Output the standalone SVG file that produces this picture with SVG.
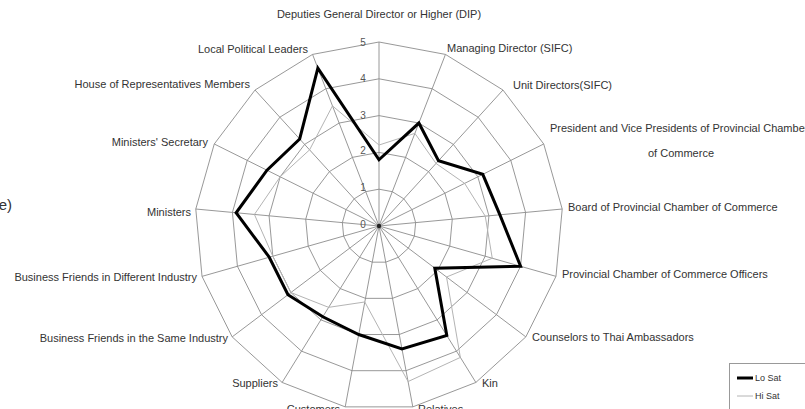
<svg xmlns="http://www.w3.org/2000/svg" width="805" height="409" viewBox="0 0 805 409">
  <style>
    .lbl { font-family: "Liberation Sans", Arial, sans-serif; font-size: 11px; fill: #333; }
    .num { font-family: "Liberation Sans", Arial, sans-serif; font-size: 10px; fill: #555; text-anchor: middle; }
    .grid { fill: none; stroke: #8c8c8c; stroke-width: 0.9; }
    .lo { fill: none; stroke: #000; stroke-width: 3; stroke-linejoin: miter; }
    .hi { fill: none; stroke: #b4b4b4; stroke-width: 1; }
  </style>

  <rect width="805" height="409" fill="#fff"/>

  <!-- cut-off caption at the left edge -->
  <text x="12" y="210" text-anchor="end" style="font-family:'Liberation Sans',Arial,sans-serif;font-size:15px;fill:#333">e)</text>

  <!-- radar grid: 17 spokes and 5 rings, centred at (379,226), 36.8px per unit -->
  <g id="grid" transform="translate(379,226)">
    <path class="grid" d="M0,0L0,-184M0,0L66.46,-171.58M0,0L123.96,-135.98M0,0L164.72,-82.01M0,0L183.21,-16.98M0,0L176.97,50.36M0,0L146.83,110.88M0,0L96.86,156.44M0,0L33.8,180.87M0,0L-33.8,180.87M0,0L-96.86,156.44M0,0L-146.83,110.88M0,0L-176.97,50.36M0,0L-183.21,-16.98M0,0L-164.72,-82.01M0,0L-123.96,-135.98M0,0L-66.46,-171.58"/>
    <polygon class="grid" points="0,-36.8 13.29,-34.32 24.79,-27.2 32.94,-16.4 36.64,-3.4 35.39,10.07 29.37,22.18 19.37,31.29 6.76,36.17 -6.76,36.17 -19.37,31.29 -29.37,22.18 -35.39,10.07 -36.64,-3.4 -32.94,-16.4 -24.79,-27.2 -13.29,-34.32"/>
    <polygon class="grid" points="0,-73.6 26.58,-68.63 49.58,-54.39 65.89,-32.8 73.28,-6.79 70.79,20.14 58.73,44.35 38.74,62.58 13.52,72.35 -13.52,72.35 -38.74,62.58 -58.73,44.35 -70.79,20.14 -73.28,-6.79 -65.89,-32.8 -49.58,-54.39 -26.58,-68.63"/>
    <polygon class="grid" points="0,-110.4 39.88,-102.95 74.38,-81.59 98.83,-49.21 109.93,-10.19 106.18,30.22 88.1,66.53 58.12,93.86 20.28,108.52 -20.28,108.52 -58.12,93.86 -88.1,66.53 -106.18,30.22 -109.93,-10.19 -98.83,-49.21 -74.38,-81.59 -39.88,-102.95"/>
    <polygon class="grid" points="0,-147.2 53.17,-137.26 99.17,-108.78 131.78,-65.61 146.57,-13.58 141.58,40.29 117.46,88.7 77.49,125.15 27.04,144.7 -27.04,144.7 -77.49,125.15 -117.46,88.7 -141.58,40.29 -146.57,-13.58 -131.78,-65.61 -99.17,-108.78 -53.17,-137.26"/>
    <polygon class="grid" points="0,-184 66.46,-171.58 123.96,-135.98 164.72,-82.01 183.21,-16.98 176.97,50.36 146.83,110.88 96.86,156.44 33.8,180.87 -33.8,180.87 -96.86,156.44 -146.83,110.88 -176.97,50.36 -183.21,-16.98 -164.72,-82.01 -123.96,-135.98 -66.46,-171.58"/>
    <circle r="2.2" fill="#222"/>
  </g>

  <!-- scale values on the vertical axis -->
  <g id="scale">
    <text class="num" x="363" y="227.5">0</text>
    <text class="num" x="363" y="190.5">1</text>
    <text class="num" x="363" y="153.5">2</text>
    <text class="num" x="363" y="118.5">3</text>
    <text class="num" x="363" y="81.5">4</text>
    <text class="num" x="363" y="45.5">5</text>
  </g>

  <!-- data series -->
  <g id="series" transform="translate(379,226)">
    <polygon id="hi-sat" class="hi" points="0,-80.96 35.89,-92.65 57.02,-62.55 85.65,-42.64 106.26,-9.85 113.26,32.23 67.54,51 81.36,131.41 29.07,155.55 -14.2,75.97 -50.37,81.35 -88.1,66.53 -106.18,30.22 -124.58,-11.55 -98.83,-49.21 -69.42,-76.15 -46.52,-120.11"/>
    <polygon id="lo-sat" class="lo" points="0,-66.24 39.88,-102.95 59.5,-65.27 103.77,-51.67 120.92,-11.21 141.58,40.29 55.8,42.13 67.8,109.5 22.98,122.99 -20.28,108.52 -56.18,90.73 -91.04,68.74 -109.72,31.22 -142.9,-13.25 -112.01,-55.77 -79.33,-87.03 -61.14,-157.85"/>
  </g>

  <!-- axis labels, clockwise from the top -->
  <g id="labels">
    <text class="lbl" x="379" y="18" text-anchor="middle">Deputies General Director or Higher (DIP)</text>
    <text class="lbl" x="447" y="52">Managing Director (SIFC)</text>
    <text class="lbl" x="513" y="89">Unit Directors(SIFC)</text>
    <text class="lbl" x="550" y="132">President and Vice Presidents of Provincial Chamber</text>
    <text class="lbl" x="648" y="157">of Commerce</text>
    <text class="lbl" x="568" y="211">Board of Provincial Chamber of Commerce</text>
    <text class="lbl" x="562" y="278">Provincial Chamber of Commerce Officers</text>
    <text class="lbl" x="532" y="341">Counselors to Thai Ambassadors</text>
    <text class="lbl" x="482" y="387">Kin</text>
    <text class="lbl" x="418" y="413">Relatives</text>
    <text class="lbl" x="340" y="413" text-anchor="end">Customers</text>
    <text class="lbl" x="278" y="387" text-anchor="end">Suppliers</text>
    <text class="lbl" x="228" y="342" text-anchor="end">Business Friends in the Same Industry</text>
    <text class="lbl" x="197" y="281" text-anchor="end">Business Friends in Different Industry</text>
    <text class="lbl" x="191" y="216" text-anchor="end">Ministers</text>
    <text class="lbl" x="208" y="146" text-anchor="end">Ministers' Secretary</text>
    <text class="lbl" x="250" y="88" text-anchor="end">House of Representatives Members</text>
    <text class="lbl" x="308" y="53" text-anchor="end">Local Political Leaders</text>
  </g>

  <!-- legend -->
  <g id="legend">
    <rect x="729.5" y="363.5" width="80" height="50" fill="#fff" stroke="#999" stroke-width="1"/>
    <line x1="737" y1="378" x2="753" y2="378" stroke="#000" stroke-width="3"/>
    <text x="755" y="381" style="font-family:'Liberation Sans',Arial,sans-serif;font-size:9px;fill:#333">Lo Sat</text>
    <line x1="737" y1="396" x2="753" y2="396" stroke="#b4b4b4" stroke-width="1"/>
    <text x="755" y="399" style="font-family:'Liberation Sans',Arial,sans-serif;font-size:9px;fill:#333">Hi Sat</text>
  </g>
</svg>
